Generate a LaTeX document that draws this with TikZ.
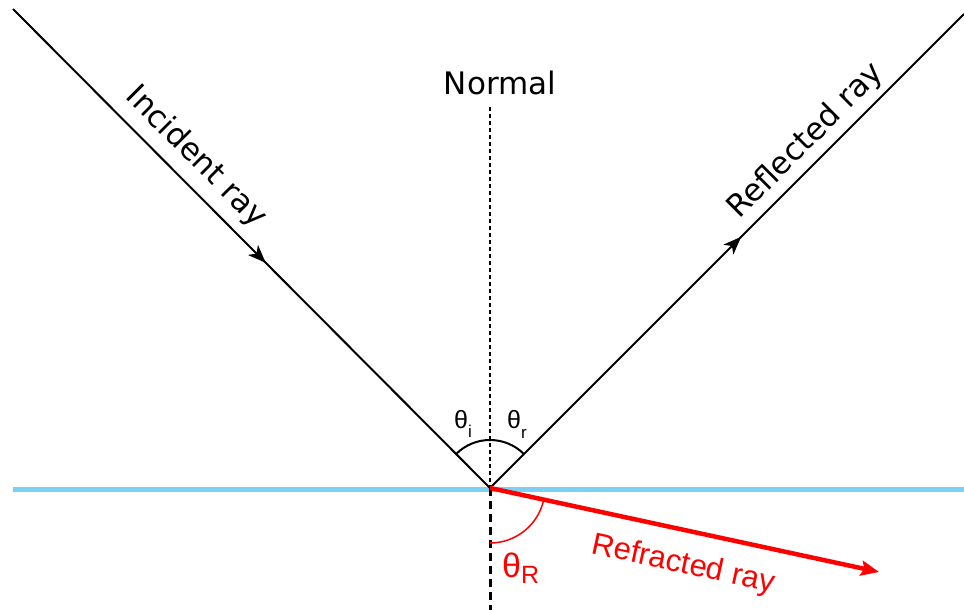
\documentclass[tikz,border=0pt]{standalone}
\usepackage{fontspec}
\setmainfont{DejaVu Sans}
\newfontfamily\arialf{Liberation Sans}
\usetikzlibrary{arrows.meta,decorations.markings,calc}
\definecolor{surf}{RGB}{125,208,245}
\definecolor{rayred}{RGB}{255,0,0}
\begin{document}
\begin{tikzpicture}[x=1pt,y=-1pt,
  ray/.style={line width=2pt, black},
  midarrow/.style={postaction={decorate},decoration={markings, mark=at position #1 with {\arrow{Stealth[length=18pt,width=14pt,inset=5pt]}}}},
  lbl/.style={font=\fontsize{31}{31}\selectfont, inner sep=0pt},
  alab/.style={anchor=base west, inner sep=0pt},
  ]
\useasboundingbox (0,0) rectangle (964,610);
\coordinate (O) at (490,488);
\coordinate (A) at (13,9);
\coordinate (B) at (964,14);
\coordinate (C) at (879,572);
\coordinate (N1) at (490,107);
\coordinate (N2) at (490,610);
\coordinate (S1) at (13,489.5);
\coordinate (S2) at (964,489.5);
% surface
\draw[surf, line width=5pt] (S1) -- (S2);
% normal
\draw[line width=1.5pt, dash pattern=on 4pt off 3pt] (N1) -- (O);
\draw[line width=3pt, dash pattern=on 8pt off 5pt] (O) -- (N2);
% rays
\draw[ray, midarrow=0.53] (A) -- (O);
\draw[ray, midarrow=0.53] (O) -- (B);
\draw[rayred, line width=4.5pt, -{Stealth[length=18pt,width=15pt,inset=3pt]}] (O) -- (C);
% angle arcs
\draw[line width=2pt] ($(O)+(-135:48)$) arc[start angle=-135, end angle=-45, radius=48];
\draw[rayred, line width=1.5pt] ($(O)+(90:55)$) arc[start angle=90, end angle=12.2, radius=55];
% labels
\node[lbl] (nrm) at (500,83) {Normal};
\node[lbl, rotate=-45] (inc) at (196,157) {Incident ray};
\node[lbl, rotate=45] (refl) at (806,141) {Reflected ray};
\node[lbl, text=rayred, font=\arialf\fontsize{31}{31}\selectfont, rotate=-12.2] (refr) at (683,565) {Refracted ray};
\node[alab, font=\arialf\fontsize{25}{25}\selectfont] (ti) at (454,428) {θ\raisebox{-9pt}{\fontsize{17}{17}\selectfont i}};
\node[alab, font=\arialf\fontsize{25}{25}\selectfont] (tr) at (507,428) {θ\raisebox{-10pt}{\fontsize{17}{17}\selectfont r}};
\node[alab, text=rayred, font=\arialf\fontsize{34}{34}\selectfont] (tR) at (502,577) {θ\raisebox{-6pt}{\fontsize{25}{25}\selectfont R}};
\end{tikzpicture}
\end{document}
